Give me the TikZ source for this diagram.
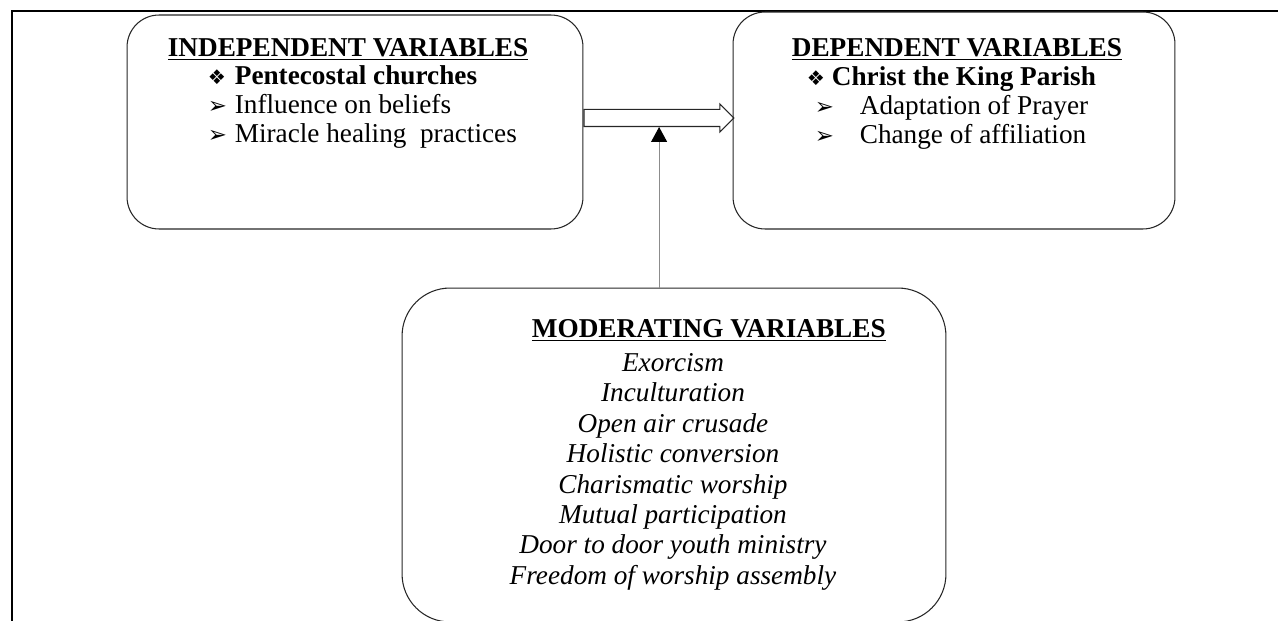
\documentclass[tikz,border=0pt]{standalone}
\usepackage{fontspec}
\setmainfont{Liberation Serif}
\newfontfamily\dingfont{DejaVu Sans}
\usetikzlibrary{shapes.arrows,arrows.meta,positioning,calc}

\tikzstyle{varbox} = [rectangle, rounded corners=0.64cm, draw=black!85, line width=0.6pt, inner sep=0pt]
\tikzstyle{boxtitle} = [anchor=base west, inner sep=0pt, font=\fontsize{15.5}{16.5}\selectfont\bfseries]
\tikzstyle{itemlist} = [anchor=base west, inner sep=0pt, font=\fontsize{15.5}{16.5}\selectfont]
\tikzstyle{modlist} = [anchor=base, inner sep=0pt, font=\fontsize{15.5}{17.3}\selectfont\itshape]
\tikzstyle{flowarrow} = [single arrow, draw=black!85, line width=0.6pt, inner xsep=0pt, inner ysep=0.16cm, minimum height=3cm, single arrow head extend=0.11cm]
\tikzstyle{arrow} = [black!45, line width=0.6pt, -{Triangle[color=black, width=0.32cm, length=0.3cm]}]

\newcommand{\bul}[3]{\makebox[#1][l]{\dingfont\fontsize{#3}{10}\selectfont #2}}

\begin{document}
\begin{tikzpicture}[x=0.02cm, y=-0.02cm]
\useasboundingbox (0,0) rectangle (1278,621);

% outer frame
\draw[line width=1.2pt] (1278,11) -- (12,11) -- (12,640);

\node (indep) [varbox, minimum width=9.12cm, minimum height=4.28cm] at (355,122) {};
\node (dep) [varbox, minimum width=8.84cm, minimum height=4.34cm] at (954,120.5) {};
\node (moder) [varbox, rounded corners=0.96cm, minimum width=10.88cm, minimum height=6.68cm] at (674,455) {};

\node (indeptitle) [boxtitle] at ($(indep.north west)+(41,42)$) {\underline{INDEPENDENT VARIABLES}};
\node (indeplist) [itemlist] at ($(indep.north west)+(81,70)$) {\begin{tabular}[t]{@{}l@{}}
\bul{0.54cm}{❖}{11.5}\textbf{Pentecostal churches}\\
\bul{0.54cm}{➢}{13}Influence on beliefs\\
\bul{0.54cm}{➢}{13}Miracle healing\ \ practices
\end{tabular}};

\node (deptitle) [boxtitle] at ($(dep.north west)+(59,45)$) {\underline{DEPENDENT VARIABLES}};
\node (deplist) [itemlist] at ($(dep.north west)+(74,74)$) {\begin{tabular}[t]{@{}l@{}}
\bul{0.5cm}{❖}{11.5}\textbf{Christ the King Parish}\\
\hspace*{0.16cm}\bul{0.9cm}{➢}{13}Adaptation of Prayer\\
\hspace*{0.16cm}\bul{0.9cm}{➢}{13}Change of affiliation
\end{tabular}};

\node (modertitle) [boxtitle] at ($(moder.north west)+(130,50)$) {\underline{MODERATING VARIABLES}};
\node (moderlist) [modlist] at ($(moder.north)+(-1,84)$) {\begin{tabular}[t]{@{}c@{}}
Exorcism\\
Inculturation\\
Open air crusade\\
Holistic conversion\\
Charismatic worship\\
Mutual participation\\
Door to door youth ministry\\
Freedom of worship assembly
\end{tabular}};

%arrows
\node (flow) [flowarrow, anchor=tail] at ($(indep.east)+(0,-4)$) {};
\coordinate (flowfoot) at ($(flow.tail)!0.5!(flow.tip)+(0,9)$);
\draw [arrow] (moder.north -| flowfoot) -- (flowfoot);

\end{tikzpicture}
\end{document}
